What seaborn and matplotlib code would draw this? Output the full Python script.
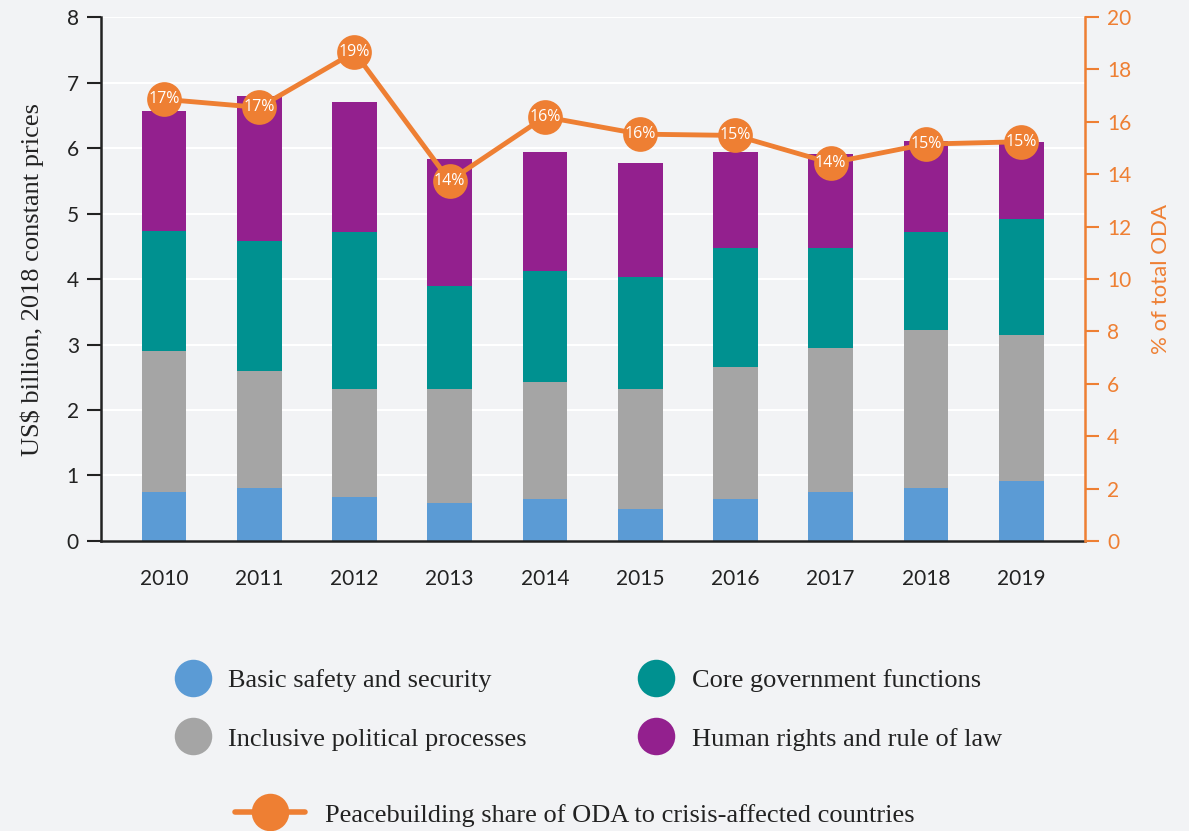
import numpy as np
import pandas as pd
import matplotlib
matplotlib.use("Agg")
import matplotlib.pyplot as plt
from matplotlib.lines import Line2D
import seaborn as sns

years = ["2010", "2011", "2012", "2013", "2014", "2015", "2016", "2017", "2018", "2019"]
basic_safety = [0.75, 0.81, 0.67, 0.58, 0.64, 0.49, 0.64, 0.75, 0.81, 0.92]
inclusive_political = [2.15, 1.79, 1.65, 1.74, 1.79, 1.83, 2.02, 2.20, 2.41, 2.23]
core_government = [1.84, 1.98, 2.40, 1.57, 1.69, 1.71, 1.81, 1.52, 1.50, 1.77]
human_rights = [1.82, 2.22, 1.98, 1.94, 1.82, 1.74, 1.47, 1.44, 1.39, 1.17]
share_pct = [16.86, 16.55, 18.66, 13.75, 16.19, 15.53, 15.48, 14.43, 15.15, 15.24]

series_names = ["Basic safety and security", "Inclusive political processes",
                "Core government functions", "Human rights and rule of law"]
line_name = "Peacebuilding share of ODA to crisis-affected countries"

BLUE = "#5B9BD5"
GRAY = "#A5A5A5"
TEAL = "#009190"
PURPLE = "#93208E"
ORANGE = "#EE7F33"
BG = "#F2F3F5"
DARK = "#222222"

sns.set_theme(style="white")
plt.rcParams["font.family"] = ["Lato", "DejaVu Sans"]

fig = plt.figure(figsize=(11.89, 8.31), dpi=100, facecolor=BG)
ax = fig.add_axes([0.085, 0.349, 0.8275, 0.6305])
ax.set_facecolor(BG)

df = pd.DataFrame({
    "year": years,
    "basic": basic_safety,
    "inclusive": inclusive_political,
    "core": core_government,
    "human": human_rights,
})
# cumulative tops, drawn tallest first so each lower segment covers the one above
df["c1"] = df["basic"]
df["c2"] = df["c1"] + df["inclusive"]
df["c3"] = df["c2"] + df["core"]
df["c4"] = df["c3"] + df["human"]

bar_w = 0.47
for col, colr in [("c4", PURPLE), ("c3", TEAL), ("c2", GRAY), ("c1", BLUE)]:
    sns.barplot(data=df, x="year", y=col, color=colr, width=bar_w, ax=ax,
                saturation=1, edgecolor="none", linewidth=0, errorbar=None)

ax.set_ylim(0, 8)
ax.set_yticks(range(0, 9))
ax.set_xlim(-0.66, 9.67)
ax.yaxis.grid(True, color="white", linewidth=1.5)
ax.set_axisbelow(True)
for s in ["top", "right"]:
    ax.spines[s].set_visible(False)
for s in ["left", "bottom"]:
    ax.spines[s].set_color(DARK)
    ax.spines[s].set_linewidth(1.8)
ax.tick_params(axis="y", which="major", direction="out", length=10, width=1.5,
               color=DARK, labelsize=15, labelcolor=DARK, pad=6, left=True)
ax.tick_params(axis="x", length=0, labelsize=15, labelcolor=DARK, pad=20)
ax.set_xlabel("")
ax.set_ylabel("US$ billion, 2018 constant prices", fontsize=19,
              family=["Liberation Serif", "DejaVu Serif"], color=DARK, labelpad=16)

# percentage share on the secondary axis
ax2 = ax.twinx()
sns.lineplot(x=np.arange(len(years)), y=share_pct, ax=ax2, color=ORANGE,
             linewidth=3.5, marker="o", markersize=25, markeredgewidth=0)
ax2.set_ylim(0, 20)
ax2.set_yticks(range(0, 21, 2))
ax2.set_xlim(-0.66, 9.67)
for s in ["top", "left", "bottom"]:
    ax2.spines[s].set_visible(False)
ax2.spines["right"].set_color(ORANGE)
ax2.spines["right"].set_linewidth(1.8)
ax2.tick_params(axis="y", direction="out", length=10, width=1.5, color=ORANGE,
                labelsize=15, labelcolor=ORANGE, pad=6, right=True)
ax2.set_ylabel("% of total ODA", fontsize=16, color=ORANGE, labelpad=14)
for i, v in enumerate(share_pct):
    ax2.text(i, v, f"{v:.0f}%", color="white", ha="center", va="center",
             fontsize=11.5, family=["Open Sans", "DejaVu Sans"])

# legends
serif = {"family": ["Liberation Serif", "DejaVu Serif"], "size": 19}
handles = [Line2D([0], [0], linestyle="none", marker="o", markersize=27,
                  markerfacecolor=c, markeredgewidth=0)
           for c in [BLUE, GRAY, TEAL, PURPLE]]
leg1 = fig.legend(handles, series_names, ncol=2, loc="upper left",
                  bbox_to_anchor=(0.130, 0.224), frameon=False, prop=serif,
                  handlelength=1.1, handletextpad=0.8, columnspacing=4.35,
                  labelspacing=1.33, labelcolor=DARK)
line_handle = Line2D([0], [0], color=ORANGE, linewidth=4, marker="o",
                     markersize=27, markeredgewidth=0)
leg2 = fig.legend([line_handle], [line_name], loc="upper left",
                  bbox_to_anchor=(0.178, 0.062), frameon=False, prop=serif,
                  handlelength=2.65, handletextpad=0.75, labelcolor=DARK)

fig.savefig("out.png", dpi=100, facecolor=BG)
